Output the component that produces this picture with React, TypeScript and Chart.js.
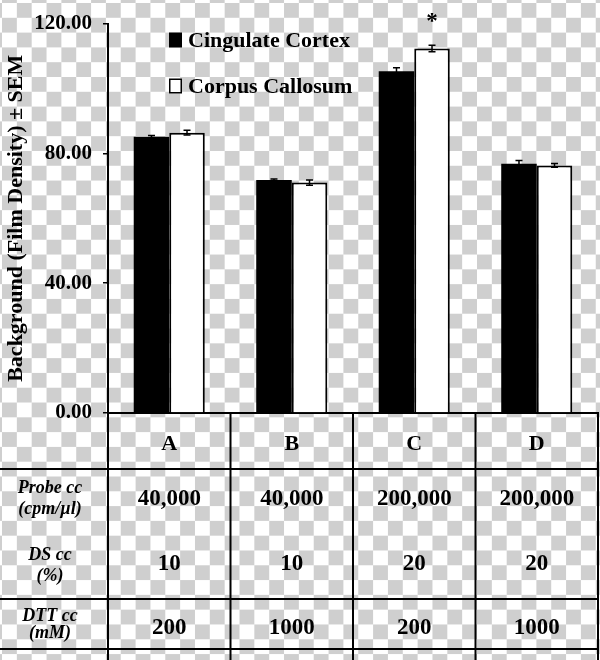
import React, { useEffect, useRef } from "react";
import { Chart, registerables } from "chart.js";

Chart.register(...registerables);

// ---------- data ----------
const categories = ["A", "B", "C", "D"];
const seriesNames = ["Cingulate Cortex", "Corpus Callosum"];
const cingulateMeans = [85.1, 71.8, 105.3, 76.8];
const cingulateSem = [0.4, 0.3, 1.1, 1.0];
const callosumMeans = [86.4, 71.0, 112.3, 76.3];
const callosumSem = [0.7, 0.8, 1.0, 0.6];
const significant = [false, false, true, false];
const yTicks = [0, 40, 80, 120];
const rowLabels = [
  ["Probe cc", "(cpm/µl)"],
  ["DS cc", "(%)"],
  ["DTT cc", "(mM)"],
];
const probeValues = ["40,000", "40,000", "200,000", "200,000"];
const dsValues = ["10", "10", "20", "20"];
const dttValues = ["200", "1000", "200", "1000"];

const SERIF = "'Liberation Serif', 'Times New Roman', serif";
const semBySeries = [cingulateSem, callosumSem];
const meansBySeries = [cingulateMeans, callosumMeans];

const errorBarPlugin = {
  id: "errorBars",
  afterDatasetsDraw(chart: any) {
    const ctx = chart.ctx;
    const ys = chart.scales.y;
    ctx.save();
    ctx.strokeStyle = "#000";
    ctx.lineWidth = 1.5;
    chart.data.datasets.forEach((_: any, di: number) => {
      const meta = chart.getDatasetMeta(di);
      meta.data.forEach((el: any, i: number) => {
        const m = meansBySeries[di][i];
        const s = semBySeries[di][i];
        const yt = ys.getPixelForValue(m + s);
        const yb = ys.getPixelForValue(m - s);
        const x = el.x;
        ctx.beginPath();
        ctx.moveTo(x, yt);
        ctx.lineTo(x, yb);
        ctx.moveTo(x - 3.5, yt);
        ctx.lineTo(x + 3.5, yt);
        ctx.moveTo(x - 3.5, yb);
        ctx.lineTo(x + 3.5, yb);
        ctx.stroke();
        if (di === 1 && significant[i]) {
          ctx.fillStyle = "#000";
          ctx.font = `bold 23px ${SERIF}`;
          ctx.textAlign = "center";
          ctx.textBaseline = "alphabetic";
          ctx.fillText("*", x, yt - 17);
        }
      });
    });
    ctx.restore();
  },
};

const legendPlugin = {
  id: "customLegend",
  afterDraw(chart: any) {
    const ctx = chart.ctx;
    ctx.save();
    const items = chart.data.datasets;
    const boxX = 169;
    const rowsY = [40, 86];
    items.forEach((ds: any, i: number) => {
      const cy = rowsY[i];
      if (i === 0) {
        ctx.fillStyle = "#000";
        ctx.fillRect(boxX, cy - 7.5, 13, 15);
      } else {
        ctx.fillStyle = "#fff";
        ctx.fillRect(boxX, cy - 7.5, 13, 15);
        ctx.strokeStyle = "#000";
        ctx.lineWidth = 1.5;
        ctx.strokeRect(boxX + 0.75, cy - 6.75, 11.5, 13.5);
      }
      ctx.fillStyle = "#000";
      ctx.font = `bold 22px ${SERIF}`;
      ctx.textAlign = "left";
      ctx.textBaseline = "middle";
      ctx.fillText(ds.label, 188, cy + 1);
    });
    ctx.restore();
  },
};

const tablePlugin = {
  id: "paramTable",
  afterDraw(chart: any) {
    const ctx = chart.ctx;
    const xs = chart.scales.x;
    const area = chart.chartArea;
    const H = chart.height;
    const centers = categories.map((_, i) => xs.getPixelForValue(i));
    const bounds = [area.left];
    for (let i = 0; i < centers.length - 1; i++) bounds.push((centers[i] + centers[i + 1]) / 2);
    bounds.push(area.right);
    const top = area.bottom;
    const hLines = [top + 56, top + 186, top + 236];

    ctx.save();
    ctx.strokeStyle = "#000";
    ctx.lineWidth = 2;
    ctx.beginPath();
    bounds.forEach((bx) => {
      ctx.moveTo(bx, top);
      ctx.lineTo(bx, H);
    });
    hLines.forEach((hy) => {
      ctx.moveTo(0, hy);
      ctx.lineTo(area.right + 1, hy);
    });
    ctx.stroke();

    ctx.fillStyle = "#000";
    ctx.textAlign = "center";
    ctx.textBaseline = "middle";
    // header letters
    ctx.font = `bold 22px ${SERIF}`;
    categories.forEach((c, i) => ctx.fillText(c, centers[i], top + 31));
    // values
    ctx.font = `bold 23px ${SERIF}`;
    const valueRows = [probeValues, dsValues, dttValues];
    const valueY = [top + 86, top + 151, top + 215];
    valueRows.forEach((row, r) => {
      row.forEach((v, i) => ctx.fillText(v, centers[i], valueY[r]));
    });
    // left labels
    ctx.font = `italic bold 18px ${SERIF}`;
    const labelY = [
      [top + 75, top + 96],
      [top + 142, top + 163],
      [top + 203, top + 220],
    ];
    rowLabels.forEach((lines, r) => {
      lines.forEach((t, k) => ctx.fillText(t, 50, labelY[r][k]));
    });
    ctx.restore();
  },
};

export default function App() {
  const ref = useRef<HTMLCanvasElement | null>(null);

  useEffect(() => {
    if (!ref.current) return;
    const chart = new Chart(ref.current, {
      type: "bar",
      data: {
        labels: categories,
        datasets: [
          {
            label: seriesNames[0],
            data: cingulateMeans,
            backgroundColor: "#000",
            borderColor: "#000",
            borderWidth: 0,
            categoryPercentage: 0.58,
            barPercentage: 1,
          },
          {
            label: seriesNames[1],
            data: callosumMeans,
            backgroundColor: "#fff",
            borderColor: "#000",
            borderWidth: 2,
            borderSkipped: "start",
            categoryPercentage: 0.58,
            barPercentage: 1,
          },
        ],
      },
      options: {
        responsive: false,
        animation: false,
        devicePixelRatio: 1,
        layout: { padding: { left: 0, right: 2, top: 14, bottom: 247 } },
        plugins: {
          legend: { display: false },
          tooltip: { enabled: false },
        },
        scales: {
          x: {
            type: "category",
            grid: { display: false },
            ticks: { display: false },
            border: { display: true, color: "#000", width: 2 },
            afterFit: (s: any) => {
              s.height = 0;
            },
          },
          y: {
            min: 0,
            max: 120,
            afterBuildTicks: (s: any) => {
              s.ticks = yTicks.map((v) => ({ value: v }));
            },
            ticks: {
              color: "#000",
              padding: 11,
              font: { family: SERIF, size: 21, weight: "bold" },
              callback: (v: any) => Number(v).toFixed(2),
            },
            grid: {
              drawOnChartArea: false,
              drawTicks: true,
              tickLength: 5,
              color: "#000",
              lineWidth: 1.5,
            },
            border: { display: true, color: "#000", width: 2 },
            title: {
              display: true,
              text: "Background (Film Density) ± SEM",
              color: "#000",
              font: { family: SERIF, size: 22, weight: "bold" },
              padding: { top: 3, bottom: 0 },
            },
            afterFit: (s: any) => {
              s.width = 108;
            },
          },
        },
      },
      plugins: [errorBarPlugin, legendPlugin, tablePlugin],
    } as any);
    return () => chart.destroy();
  }, []);

  return (
    <div
      style={{
        position: "absolute",
        left: 0,
        top: 0,
        width: 600,
        height: 660,
        overflow: "hidden",
        background:
          "repeating-conic-gradient(#cfcfcf 0% 25%, #ffffff 0% 50%) 2px 3px / 29.7px 29.6px",
      }}
    >
      <canvas ref={ref} width={600} height={660} style={{ display: "block" }} />
    </div>
  );
}
